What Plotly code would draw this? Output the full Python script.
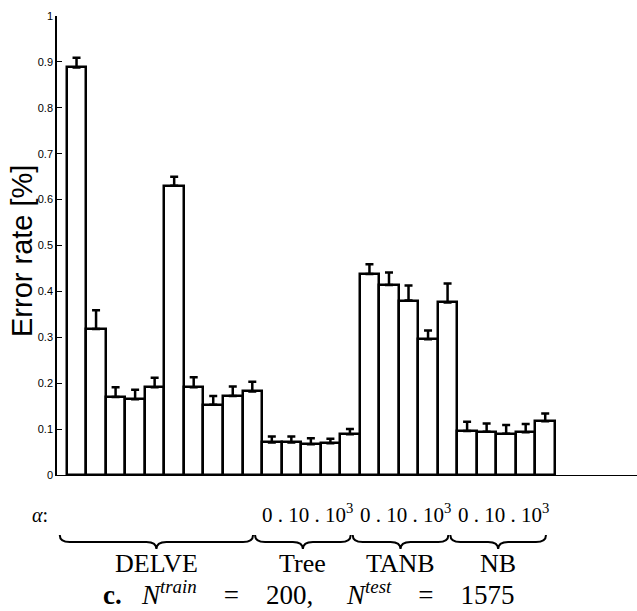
import plotly.graph_objects as go

# ---- data ----
groups = ["DELVE", "Tree", "TANB", "NB"]
group_sizes = [10, 5, 5, 5]
error_rate = [0.888, 0.318, 0.170, 0.165, 0.191, 0.630, 0.191, 0.153, 0.172, 0.182,
              0.071, 0.071, 0.067, 0.069, 0.089,
              0.438, 0.414, 0.380, 0.296, 0.376,
              0.096, 0.094, 0.090, 0.093, 0.117]
error_plus = [0.021, 0.041, 0.021, 0.021, 0.021, 0.020, 0.022, 0.019, 0.021, 0.021,
              0.013, 0.013, 0.013, 0.010, 0.011,
              0.021, 0.027, 0.033, 0.019, 0.041,
              0.020, 0.018, 0.019, 0.018, 0.017]
alpha_label = "0 . 10 . 10<sup>3</sup>"
ytick_vals = [0, 0.1, 0.2, 0.3, 0.4, 0.5, 0.6, 0.7, 0.8, 0.9, 1]
ytick_text = ["0", "0.1", "0.2", "0.3", "0.4", "0.5", "0.6", "0.7", "0.8", "0.9", "1"]

# ---- layout geometry ----
W, H = 637, 611
ML, MR, MT, MB = 57, 0, 16, 136
PW, PH = W - ML - MR, H - MT - MB
XR = [0, 29.7]

def xpaper_from_data(x):
    return (x - XR[0]) / (XR[1] - XR[0])

def px_to_paper_x(dx):
    return dx / PW

def ypaper_from_pix(py):
    return (MT + PH - py) / PH

xs = list(range(1, len(error_rate) + 1))

fig = go.Figure()
fig.add_trace(go.Bar(
    x=xs, y=error_rate, width=1.0,
    marker=dict(color="white", line=dict(color="black", width=2.5)),
    error_y=dict(type="data", symmetric=False, array=error_plus,
                 arrayminus=[0] * len(error_plus),
                 color="black", thickness=2.5, width=4),
    showlegend=False,
))

annotations = []
shapes = []

starts = []
s = 0.5
for n in group_sizes:
    starts.append(s)
    s += n
shift = -8 / (PW / (XR[1] - XR[0]))

y_top = ypaper_from_pix(535)
y_mid = ypaper_from_pix(542)
y_tip = ypaper_from_pix(549)
r = px_to_paper_x(10)

SERIF = "Liberation Serif"

for g, n, st in zip(groups, group_sizes, starts):
    xl = xpaper_from_data(st + shift) + px_to_paper_x(1)
    xr = xpaper_from_data(st + n + shift) - px_to_paper_x(1)
    xm = (xl + xr) / 2
    path = (f"M {xl},{y_top} Q {xl},{y_mid} {xl + r},{y_mid} "
            f"L {xm - r},{y_mid} Q {xm},{y_mid} {xm},{y_tip} "
            f"Q {xm},{y_mid} {xm + r},{y_mid} "
            f"L {xr - r},{y_mid} Q {xr},{y_mid} {xr},{y_top}")
    shapes.append(dict(type="path", path=path, xref="paper", yref="paper",
                       line=dict(color="black", width=2)))
    annotations.append(dict(text=g, x=xm, y=ypaper_from_pix(563), xref="paper", yref="paper",
                            xanchor="center", yanchor="middle", showarrow=False,
                            font=dict(family=SERIF, size=26, color="black")))
    if g != "DELVE":
        annotations.append(dict(text=alpha_label,
                                x=xpaper_from_data(st + n / 2) - px_to_paper_x(3),
                                y=ypaper_from_pix(513), xref="paper", yref="paper",
                                xanchor="center", yanchor="middle", showarrow=False,
                                font=dict(family=SERIF, size=21, color="black")))

annotations.append(dict(text="<i>α</i>:", x=px_to_paper_x(40 - ML), y=ypaper_from_pix(515),
                        xref="paper", yref="paper", xanchor="center", yanchor="middle",
                        showarrow=False,
                        font=dict(family=SERIF, size=20, color="black")))
sp = "&nbsp;"
caption = ("<b>c.</b>" + sp * 3 + "<i>N</i><sup><i>train</i></sup>" + sp * 4 + "=" + sp * 4 + "200,"
           + sp * 5 + "<i>N</i><sup><i>test</i></sup>" + sp * 4 + "=" + sp * 4 + "1575")
annotations.append(dict(text=caption,
                        x=px_to_paper_x(308 - ML), y=ypaper_from_pix(612),
                        xref="paper", yref="paper", xanchor="center", yanchor="bottom",
                        showarrow=False,
                        font=dict(family=SERIF, size=27, color="black")))
annotations.append(dict(text="Error rate [%]", x=px_to_paper_x(22 - ML), y=ypaper_from_pix(251),
                        xref="paper", yref="paper", xanchor="center", yanchor="middle",
                        textangle=-90, showarrow=False,
                        font=dict(family="Liberation Sans", size=29, color="black")))

fig.update_layout(
    width=W, height=H,
    margin=dict(l=ML, r=MR, t=MT, b=MB, pad=0),
    paper_bgcolor="white", plot_bgcolor="white",
    bargap=0,
    xaxis=dict(range=XR, showline=True, linecolor="black", linewidth=1.2,
               showticklabels=False, ticks="", showgrid=False, zeroline=False),
    yaxis=dict(range=[0, 1], tickvals=ytick_vals, ticktext=ytick_text,
               ticks="inside", ticklen=5, tickwidth=1, tickcolor="black",
               showline=True, linecolor="black", linewidth=1.5,
               showgrid=False, zeroline=False,
               tickfont=dict(family="Liberation Sans", size=11, color="black")),
    annotations=annotations, shapes=shapes,
)

fig.write_html("out.html")
